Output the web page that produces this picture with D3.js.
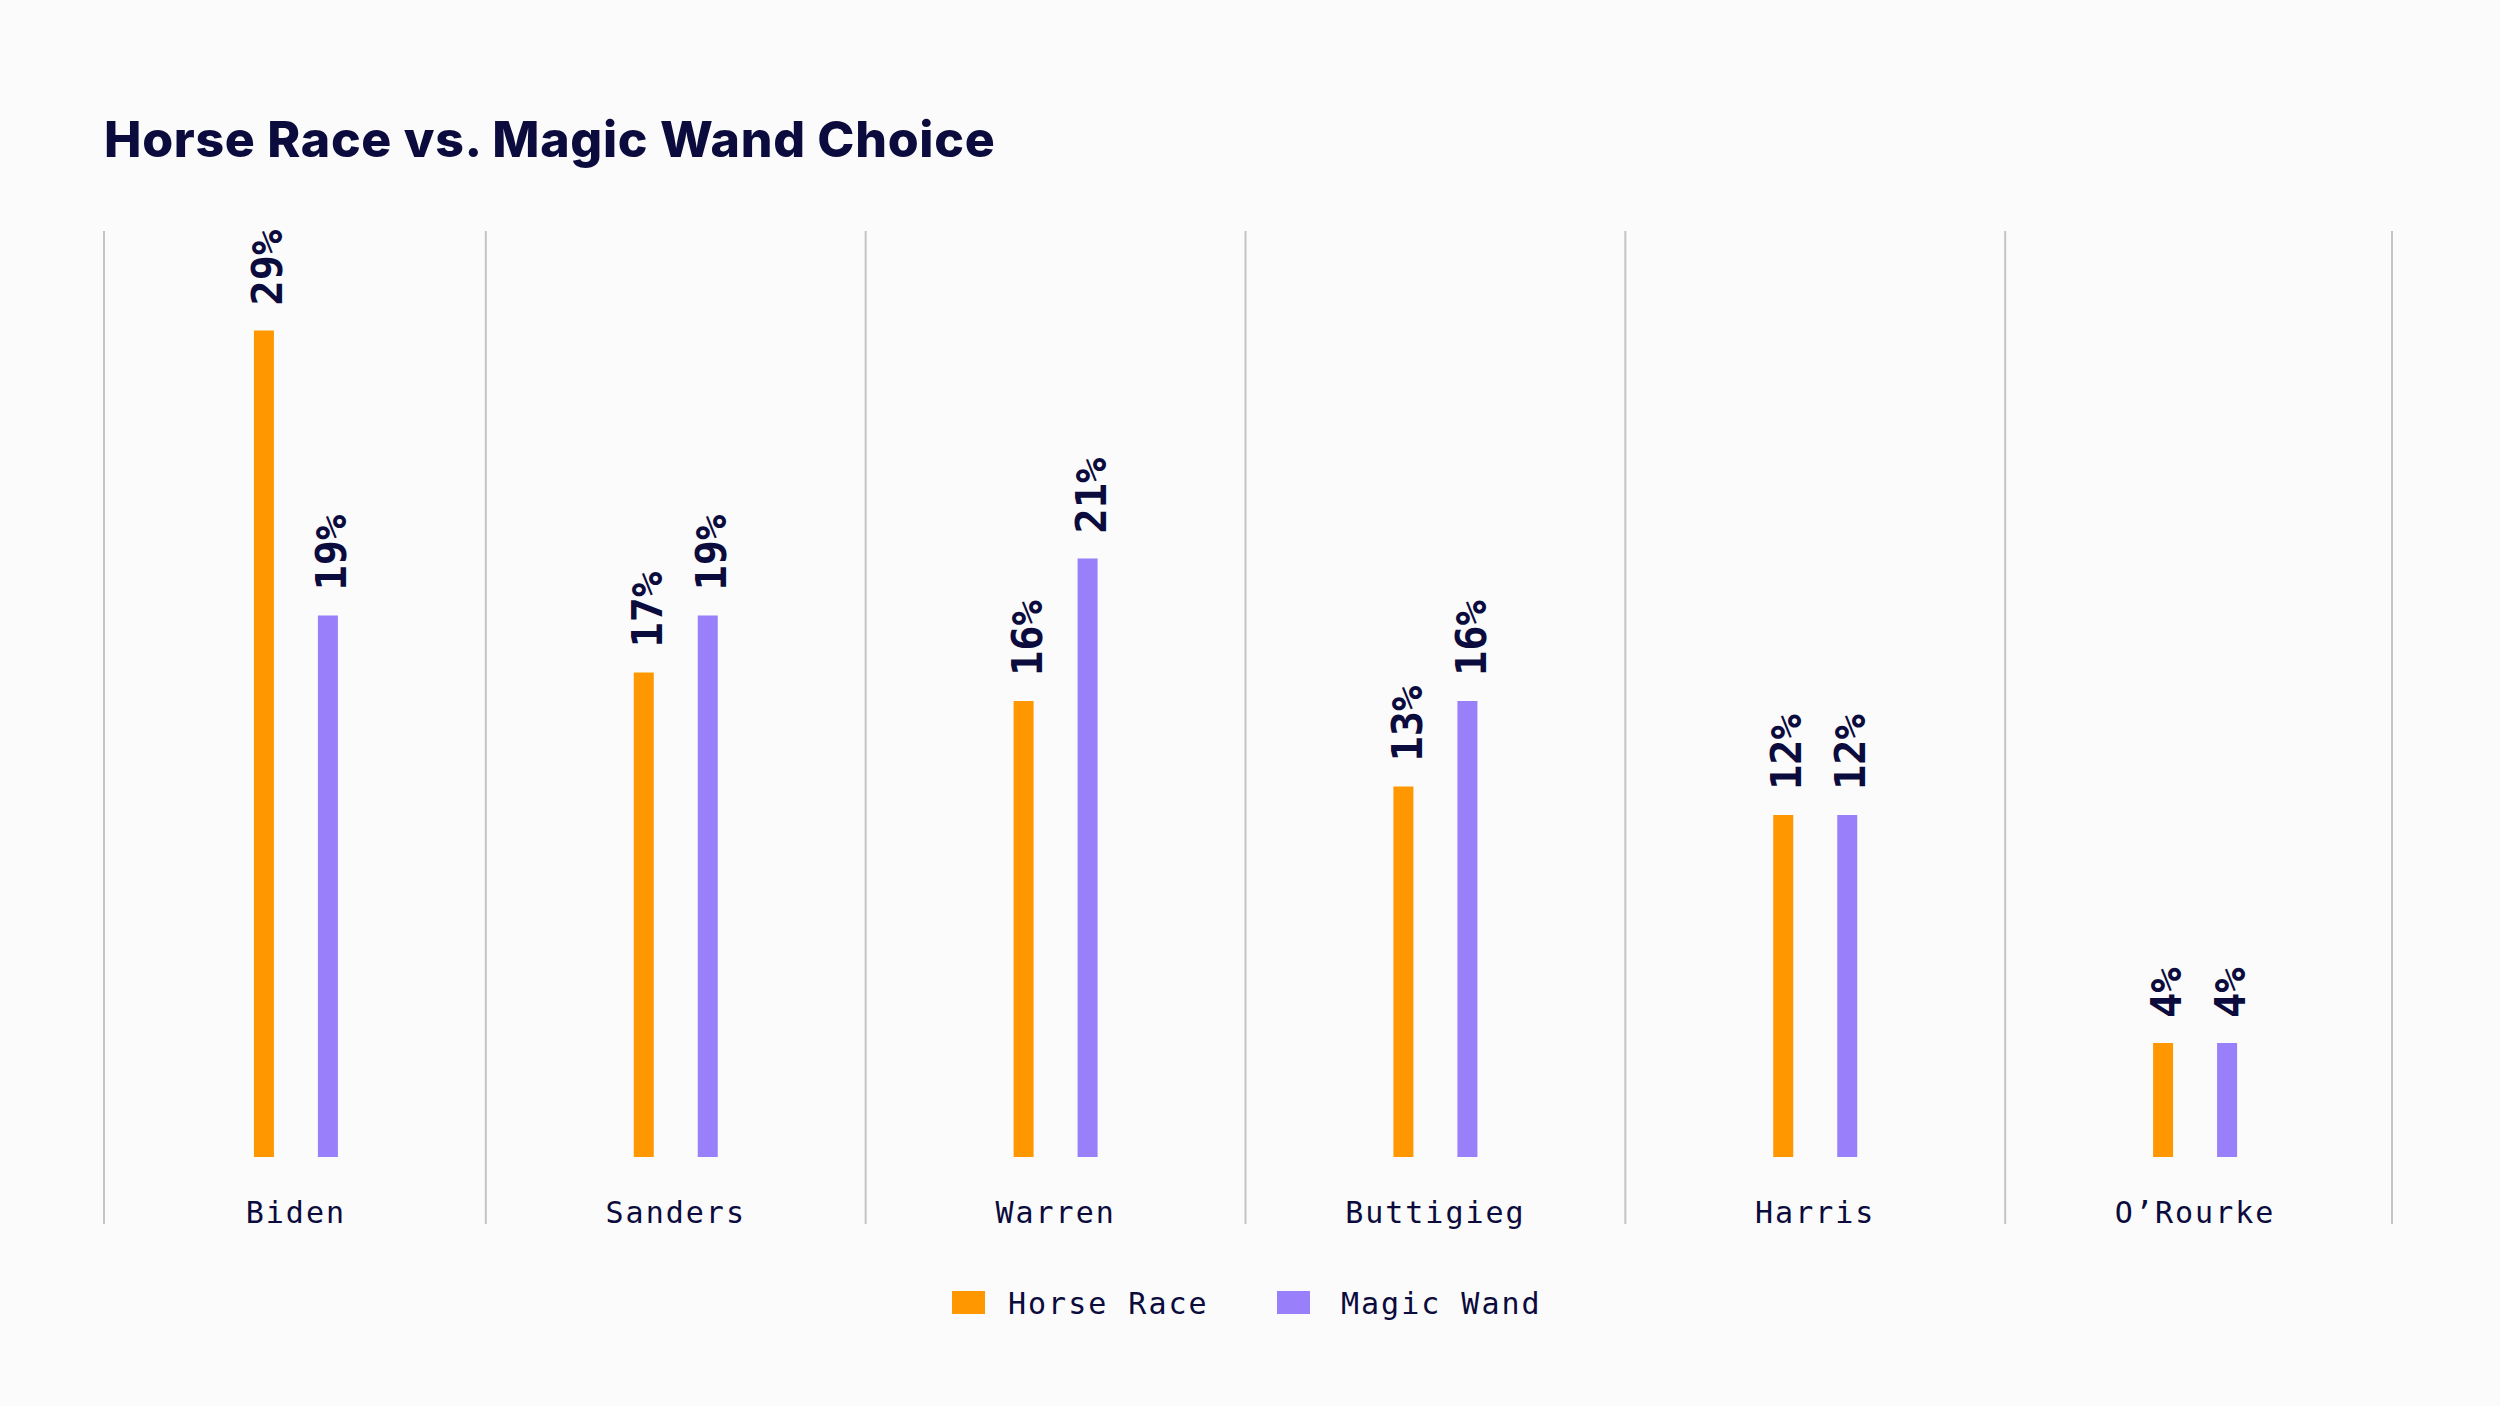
<!DOCTYPE html>
<html>
<head>
<meta charset="utf-8">
<script src="https://cdn.jsdelivr.net/npm/d3@7"></script>
<style>
  html, body { margin: 0; padding: 0; background: #fbfbfb; }
  svg { display: block; }
</style>
</head>
<body>
<div id="chart"></div>
<script>
// data
const candidates = ["Biden", "Sanders", "Warren", "Buttigieg", "Harris", "O\u2019Rourke"];
const seriesNames = ["Horse Race", "Magic Wand"];
const horseRace = [29, 17, 16, 13, 12, 4];
const magicWand = [19, 19, 21, 16, 12, 4];
const seriesColors = ["#ff9800", "#9a7ffb"];

const W = 2500, H = 1406;
const navy = "#0b0b3d";

const svg = d3.select("#chart").append("svg")
  .attr("width", W)
  .attr("height", H);

svg.append("rect").attr("width", W).attr("height", H).attr("fill", "#fbfbfb");

// title
svg.append("text")
  .attr("x", 104)
  .attr("y", 157)
  .attr("font-family", "Inter, 'Open Sans', sans-serif")
  .attr("font-weight", 800)
  .attr("font-size", 50)
  .attr("letter-spacing", 0.7)
  .attr("fill", navy)
  .text("Horse Race vs. Magic Wand Choice");

// scales
const plotLeft = 104, plotRight = 2392;
const baseY = 1157;
const x = d3.scaleBand().domain(candidates).range([106, 2385]);
const y = d3.scaleLinear().domain([0, 29]).range([baseY, baseY - 29 * 28.5]);
const x1 = d3.scalePoint().domain(seriesNames).range([-32, 32]);
const barW = 20;

// gridlines: plot edges plus boundaries between categories
const gridXs = [plotLeft].concat(candidates.slice(1).map(c => x(c)), [plotRight]);
svg.append("g").selectAll("line")
  .data(gridXs)
  .enter()
  .append("line")
  .attr("x1", d => d).attr("x2", d => d)
  .attr("y1", 231).attr("y2", 1224)
  .attr("stroke", "#c4c4c4")
  .attr("stroke-width", 2);

const rows = candidates.map((c, i) => ({
  name: c,
  values: [
    { series: seriesNames[0], value: horseRace[i], color: seriesColors[0] },
    { series: seriesNames[1], value: magicWand[i], color: seriesColors[1] }
  ]
}));

const groups = svg.append("g").selectAll("g")
  .data(rows)
  .enter()
  .append("g")
  .attr("transform", d => `translate(${x(d.name) + x.bandwidth() / 2},0)`);

groups.selectAll("rect")
  .data(d => d.values)
  .enter()
  .append("rect")
  .attr("x", d => x1(d.series) - barW / 2)
  .attr("y", d => y(d.value))
  .attr("width", barW)
  .attr("height", d => baseY - y(d.value))
  .attr("fill", d => d.color);

groups.selectAll("text.val")
  .data(d => d.values)
  .enter()
  .append("text")
  .attr("class", "val")
  .attr("transform", d => `translate(${x1(d.series) + 3},${y(d.value) - 25}) rotate(-90)`)
  .attr("dy", "0.36em")
  .attr("font-family", "'DejaVu Sans Mono', 'Liberation Mono', monospace")
  .attr("font-weight", 700)
  .attr("font-size", 42)
  .attr("fill", navy)
  .text(d => d.value + "%");

// category labels
svg.append("g").selectAll("text")
  .data(candidates)
  .enter()
  .append("text")
  .attr("x", d => x(d) + x.bandwidth() / 2)
  .attr("y", 1223)
  .attr("text-anchor", "middle")
  .attr("font-family", "'DejaVu Sans Mono', 'Liberation Mono', monospace")
  .attr("font-size", 30)
  .attr("letter-spacing", 2)
  .attr("fill", navy)
  .text(d => d);

// legend
const legendX = [952, 1277];
const legend = svg.append("g").selectAll("g")
  .data(seriesNames)
  .enter()
  .append("g")
  .attr("transform", (d, i) => `translate(${legendX[i]},1291)`);

legend.append("rect")
  .attr("width", 33)
  .attr("height", 23)
  .attr("fill", (d, i) => seriesColors[i]);

legend.append("text")
  .attr("x", (d, i) => i === 0 ? 56 : 64)
  .attr("y", 23)
  .attr("font-family", "'DejaVu Sans Mono', 'Liberation Mono', monospace")
  .attr("font-size", 30)
  .attr("letter-spacing", 2)
  .attr("fill", navy)
  .text(d => d);
</script>
</body>
</html>
